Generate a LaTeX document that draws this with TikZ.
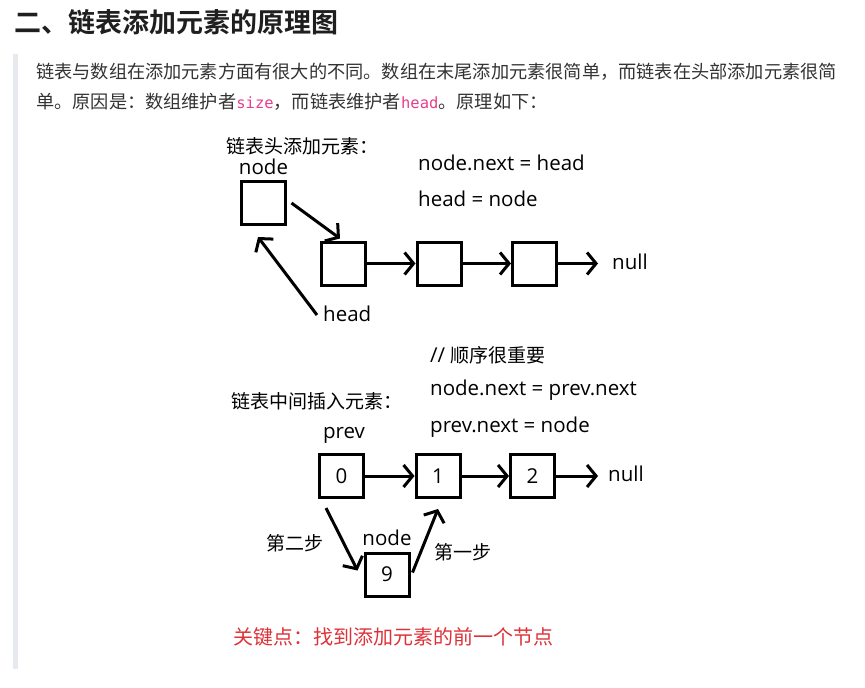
\documentclass[tikz,border=0pt]{standalone}
\usepackage{fontspec}
\setmainfont{Noto Sans CJK SC}[BoldFont={Noto Sans CJK SC Bold}]
\newfontfamily\codefont{DejaVu Sans Mono}
\newfontfamily\dfont{Open Sans}
\usetikzlibrary{arrows.meta,calc}
\definecolor{bodytext}{HTML}{333333}
\definecolor{codepink}{HTML}{E83E8C}
\definecolor{keyred}{HTML}{DE3238}
\definecolor{quotebar}{HTML}{E6EAEF}
\tikzset{
  box/.style={draw=black,line width=3pt,minimum width=44pt,minimum height=43pt,inner sep=0pt,font=\dfont\fontsize{20.5}{20.5}\selectfont},
  link/.style={line width=3pt,-{Straight Barb[length=9pt,width=22pt]}},
  lbl/.style={inner sep=0pt,anchor=west,font=\dfont\fontsize{20.5}{20.5}\selectfont},
  clbl/.style={inner sep=0pt,anchor=center,font=\dfont\fontsize{20.5}{20.5}\selectfont},
  cjklbl/.style={inner sep=0pt,font=\fontsize{19}{19}\selectfont},
  para/.style={inner sep=0pt,anchor=west,text=bodytext,font=\fontsize{18.2}{18.2}\selectfont},
}
\newcommand{\codeword}[1]{{\codefont\fontsize{15.5}{15.5}\selectfont\textcolor{codepink}{#1}}}
\begin{document}
\begin{tikzpicture}[x=1pt,y=-1pt]
\useasboundingbox (0,0) rectangle (865,688);
\fill[white] (0,0) rectangle (865,688);
% heading
\node[inner sep=0pt,anchor=west,text={black!88},font=\fontsize{27}{27}\selectfont\bfseries] (title) at (14,22) {二、链表添加元素的原理图};
% quote bar
\fill[quotebar] (13,54) rectangle (18,669);
% paragraph
\node[para] (p1) at (36,72) {链表与数组在添加元素方面有很大的不同。数组在末尾添加元素很简单，而链表在头部添加元素很简};
\node[para] (p2) at (36,102) {单。原因是：数组维护者\codeword{size}，而链表维护者\codeword{head}。原理如下：};

% ---------- upper diagram ----------
\node[cjklbl,anchor=west] (t1) at (226,146) {链表头添加元素：};
\node[clbl] (nodelbl) at (263.5,167) {node};
\node[lbl] (eq1) at (418,163) {node.next = head};
\node[lbl] (eq2) at (418,199) {head = node};

\node[box] (b1) at (263,203) {};
\node[box] (b2) at (343.5,263.5) {};
\node[box] (b3) at (439,263.5) {};
\node[box] (b4) at (534.5,263.5) {};
\node[lbl] (null1) at (612,262) {null};
\node[lbl] (headlbl) at (323,314) {head};
\coordinate (n1end) at ($(null1.west)+(-14,1.5)$);

\draw[link] ($(b1.east)+(5,0)$) -- ($(b2.north west)+(20,-2)$);
\draw[link] (b2.east) -- (b3.west);
\draw[link] (b3.east) -- (b4.west);
\draw[link] (b4.east) -- (n1end);
\draw[link] ($(headlbl.west)+(-6,1)$) -- ($(b1.south)+(-5,11)$);

% ---------- lower diagram ----------
\node[lbl] (c0) at (430,355) {{\dfont //} \fontsize{19}{19}\rmfamily 顺序很重要};
\node[lbl] (c1) at (430,390) {node.next = prev.next};
\node[lbl] (c2) at (430,427) {prev.next = node};
\node[cjklbl,anchor=west] (t2) at (231,401) {链表中间插入元素：};
\node[clbl] (prevlbl) at (344,435) {prev};

\node[box] (m0) at (341.5,476) {0};
\node[box] (m1) at (438,476) {1};
\node[box] (m2) at (532.5,476) {2};
\node[lbl] (null2) at (608,474) {null};
\coordinate (n2end) at ($(null2.west)+(-10,2)$);
\node[box] (m9) at (387,574.5) {9};
\node[clbl] (node2lbl) at (387,538) {node};

\draw[link] (m0.east) -- (m1.west);
\draw[link] (m1.east) -- (m2.west);
\draw[link] (m2.east) -- (n2end);
\draw[link] ($(m0.south west)+(8,9)$) -- ($(m9.west)+(-6,-4)$);
\draw[link] ($(m9.east)+(2,-2)$) -- ($(m1.south)+(0,10)$);

\node[cjklbl] (step2) at (295,543) {第二步};
\node[cjklbl] (step1) at (463,552) {第一步};

% key point
\node[cjklbl,anchor=west,text=keyred,font=\fontsize{20}{20}\selectfont] (key) at (233,637) {关键点：找到添加元素的前一个节点};
\end{tikzpicture}
\end{document}
